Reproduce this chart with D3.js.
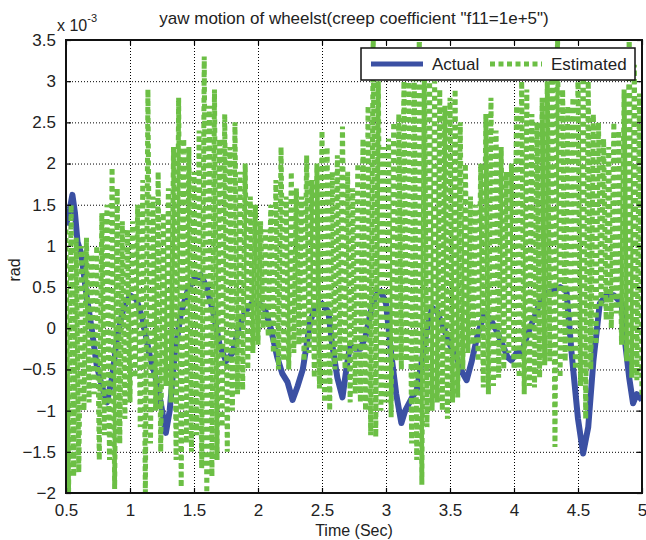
<!DOCTYPE html>
<html>
<head>
<meta charset="utf-8">
<script src="https://cdn.jsdelivr.net/npm/d3@7"></script>
<style>
  body { margin: 0; background: #fff; }
  svg { display: block; font-family: "Liberation Sans", Arial, Helvetica, sans-serif; }
</style>
</head>
<body>
<div id="chart"></div>
<script>
// yaw motion of wheelset: actual vs estimated (values in units of 1e-3 rad)

// tick values
const xTicks = [0.5, 1, 1.5, 2, 2.5, 3, 3.5, 4, 4.5, 5];
const yTicks = [-2, -1.5, -1, -0.5, 0, 0.5, 1, 1.5, 2, 2.5, 3, 3.5];

// actual series
const actualTime = [0.50, 0.53, 0.55, 0.57, 0.59, 0.62, 0.66, 0.70, 0.74, 0.78, 0.82, 0.86, 0.90, 0.95,
  1.00, 1.05, 1.10, 1.15, 1.20, 1.24, 1.28, 1.31, 1.35, 1.40, 1.45, 1.50, 1.55, 1.60, 1.65, 1.70, 1.75,
  1.80, 1.85, 1.90, 1.95, 2.00, 2.05, 2.10, 2.15, 2.19, 2.23, 2.27, 2.31, 2.35, 2.38, 2.41, 2.45, 2.50,
  2.55, 2.58, 2.62, 2.66, 2.69, 2.72, 2.76, 2.80, 2.84, 2.88, 2.92, 2.96, 3.00, 3.04, 3.08, 3.12, 3.15,
  3.20, 3.24, 3.28, 3.32, 3.36, 3.40, 3.45, 3.50, 3.55, 3.60, 3.63, 3.67, 3.72, 3.77, 3.82, 3.87, 3.91,
  3.95, 3.98, 4.02, 4.06, 4.10, 4.15, 4.20, 4.24, 4.30, 4.36, 4.41, 4.45, 4.50, 4.54, 4.58, 4.62, 4.67,
  4.72, 4.78, 4.84, 4.87, 4.90, 4.93, 4.96, 5.00];
const actualValue = [1.25, 1.45, 1.62, 1.40, 1.05, 0.90, 0.40, 0.00, -0.45, -0.70, -0.90, -0.60, -0.10, 0.25,
  0.40, 0.35, 0.10, -0.30, -0.60, -0.90, -1.27, -1.00, -0.30, 0.20, 0.45, 0.60, 0.65, 0.50, 0.20, -0.20, -0.40,
  -0.30, 0.00, 0.20, 0.30, 0.30, 0.25, 0.00, -0.35, -0.55, -0.65, -0.87, -0.70, -0.50, -0.20, 0.10, 0.25, 0.30,
  0.20, -0.20, -0.60, -0.84, -0.50, -0.20, -0.25, -0.25, -0.10, 0.20, 0.40, 0.45, 0.30, -0.30, -0.80, -1.15, -1.00,
  -0.85, -0.75, -0.40, 0.00, 0.25, 0.20, 0.00, -0.20, -0.35, -0.55, -0.63, -0.40, -0.05, 0.18, 0.10, -0.05, -0.20,
  -0.35, -0.39, -0.30, -0.30, -0.10, 0.10, 0.30, 0.42, 0.45, 0.50, 0.45, -0.30, -1.10, -1.52, -1.20, -0.40, 0.30,
  0.40, 0.40, 0.30, -0.20, -0.60, -0.91, -0.80, -0.87];

// estimated series: turning points of the fast oscillation
const estTime = [
  0.50, 0.52, 0.54, 0.56, 0.58, 0.60, 0.62, 0.64, 0.66, 0.68, 0.70, 0.72, 0.74, 0.76, 0.78, 0.80, 0.82, 0.84, 0.86, 0.88, 0.90, 0.92, 0.94, 0.96, 0.98,
  1.00, 1.02, 1.04, 1.06, 1.08, 1.10, 1.12, 1.14, 1.16, 1.18, 1.20, 1.22, 1.24, 1.26, 1.28, 1.30, 1.32, 1.34, 1.36, 1.38, 1.40, 1.42, 1.44, 1.46, 1.48,
  1.50, 1.52, 1.54, 1.56, 1.58, 1.60, 1.62, 1.64, 1.66, 1.68, 1.70, 1.72, 1.74, 1.76, 1.78, 1.80, 1.82, 1.84, 1.86, 1.88, 1.90, 1.92, 1.94, 1.96, 1.98,
  2.00, 2.02, 2.04, 2.06, 2.08, 2.10, 2.12, 2.14, 2.16, 2.18, 2.20, 2.22, 2.24, 2.26, 2.28, 2.30, 2.32, 2.34, 2.36, 2.38, 2.40, 2.42, 2.44, 2.46, 2.48,
  2.50, 2.52, 2.54, 2.56, 2.58, 2.60, 2.62, 2.64, 2.66, 2.68, 2.70, 2.72, 2.74, 2.76, 2.78, 2.80, 2.82, 2.84, 2.86, 2.88, 2.90, 2.92, 2.94, 2.96, 2.98,
  3.00, 3.02, 3.04, 3.06, 3.08, 3.10, 3.12, 3.14, 3.16, 3.18, 3.20, 3.22, 3.24, 3.26, 3.28, 3.30, 3.32, 3.34, 3.36, 3.38, 3.40, 3.42, 3.44, 3.46, 3.48,
  3.50, 3.52, 3.54, 3.56, 3.58, 3.60, 3.62, 3.64, 3.66, 3.68, 3.70, 3.72, 3.74, 3.76, 3.78, 3.80, 3.82, 3.84, 3.86, 3.88, 3.90, 3.92, 3.94, 3.96, 3.98,
  4.00, 4.02, 4.04, 4.06, 4.08, 4.10, 4.12, 4.14, 4.16, 4.18, 4.20, 4.22, 4.24, 4.26, 4.28, 4.30, 4.32, 4.34, 4.36, 4.38, 4.40, 4.42, 4.44, 4.46, 4.48,
  4.50, 4.52, 4.54, 4.56, 4.58, 4.60, 4.62, 4.64, 4.66, 4.68, 4.70, 4.72, 4.74, 4.76, 4.78, 4.80, 4.82, 4.84, 4.86, 4.88, 4.90, 4.92, 4.94, 4.96, 4.98,
  5.00];
const estValue = [
  1.2, -2.0, 1.5, -1.8, 1.1, -1.75, 1.0, -1.0, 1.1, -0.9, 0.9, -0.8, 1.0, -1.6, 1.4, -1.3, 1.5, -1.6, 1.95, -1.95, 1.7, -1.4, 1.3, -1.1, 1.2,
  -0.9, 1.3, -0.6, 1.5, -1.2, 1.8, -2.0, 2.9, -1.4, 1.6, -1.0, 1.9, -1.5, 1.4, -0.7, 1.7, -0.9, 2.2, -1.6, 2.8, -1.93, 2.3, -1.4, 2.2, -1.5,
  1.9, -1.3, 2.4, -1.7, 3.3, -2.0, 2.7, -1.8, 2.9, -1.6, 2.3, -1.2, 2.6, -1.5, 2.2, -1.0, 2.5, -0.8, 1.9, -0.75, 2.0, -0.5, 1.6, -0.3, 1.5,
  -0.2, 1.3, 0.0, 1.2, -0.1, 1.5, -0.3, 1.8, -0.5, 2.2, -0.4, 1.6, -0.5, 1.9, -0.3, 1.7, -0.2, 1.6, -0.4, 2.1, -0.3, 1.8, -0.6, 2.0, -0.73,
  2.4, -0.9, 2.2, -1.0, 1.9, -0.5, 2.1, -0.4, 2.45, -0.5, 1.9, -0.9, 1.7, -0.8, 2.0, -0.9, 2.3, -1.0, 2.7, -1.3, 3.6, -1.32, 3.0, -1.0, 2.2,
  -0.9, 2.3, -1.08, 2.5, -0.4, 2.6, -0.5, 3.0, -0.4, 3.1, -1.4, 3.3, -1.6, 3.6, -1.9, 3.2, -1.2, 3.1, -1.0, 3.0, -0.9, 2.9, -1.0, 2.7, -1.1,
  2.8, -0.9, 2.9, -0.84, 2.5, -0.5, 2.0, -0.3, 1.6, -0.2, 1.5, -0.4, 2.0, -0.72, 2.6, -0.8, 2.8, -0.7, 2.4, -0.6, 2.2, -0.5, 1.9, -0.3, 2.0,
  -0.5, 2.7, -0.6, 3.0, -0.8, 2.9, -0.7, 2.6, -0.72, 2.5, -0.6, 2.8, -0.45, 3.0, -0.4, 3.3, -1.44, 3.6, -0.6, 2.9, -0.4, 2.7, -0.3, 2.8, -0.5,
  3.1, -0.7, 3.2, -1.1, 3.0, -0.5, 2.6, -0.2, 2.5, 0.25, 2.3, 0.1, 2.2, 0.0, 2.5, 0.18, 2.4, -0.2, 2.9, -0.4, 3.6, -0.6, 3.2, -0.63, 2.85,
  -0.84];

const actual = actualTime.map((t, i) => ({ t, v: actualValue[i] }));
const estimated = estTime.map((t, i) => ({ t, v: estValue[i] }));

// layout
const W = 646, H = 540;
const margin = { top: 40, right: 4, bottom: 47, left: 66 };
const width = W - margin.left - margin.right,
      height = H - margin.top - margin.bottom;

const blue = "#3b50a3", green = "#6cbf45";

const svg = d3.select("#chart")
  .append("svg")
    .attr("width", W)
    .attr("height", H);

const g = svg.append("g")
  .attr("transform", `translate(${margin.left},${margin.top})`);

const x = d3.scaleLinear().domain([0.5, 5]).range([0, width]);
const y = d3.scaleLinear().domain([-2, 3.5]).range([height, 0]);

// clip the lines to the axes box
svg.append("defs").append("clipPath")
    .attr("id", "plotclip")
  .append("rect")
    .attr("width", width)
    .attr("height", height);

// dotted grid
g.append("g")
  .attr("transform", `translate(0,${height})`)
  .call(d3.axisBottom(x).tickValues(xTicks).tickSize(-height).tickFormat(""))
  .call(a => a.select(".domain").remove())
  .selectAll("line")
    .attr("stroke", "#000")
    .attr("stroke-width", 1)
    .attr("stroke-dasharray", "1,2");

g.append("g")
  .call(d3.axisLeft(y).tickValues(yTicks).tickSize(-width).tickFormat(""))
  .call(a => a.select(".domain").remove())
  .selectAll("line")
    .attr("stroke", "#000")
    .attr("stroke-width", 1)
    .attr("stroke-dasharray", "1,2");

// lines
const line = d3.line()
  .x(d => x(d.t))
  .y(d => y(d.v));

const plot = g.append("g").attr("clip-path", "url(#plotclip)");

plot.append("path")
  .datum(actual)
  .attr("fill", "none")
  .attr("stroke", blue)
  .attr("stroke-width", 6)
  .attr("stroke-linejoin", "round")
  .attr("d", line);

plot.append("path")
  .datum(estimated)
  .attr("fill", "none")
  .attr("stroke", green)
  .attr("stroke-width", 5)
  .attr("stroke-dasharray", "5,3.5")
  .attr("d", line);

// axes with inward ticks on all four sides
const fontSize = "17px";

const xAxis = g.append("g")
  .attr("transform", `translate(0,${height})`)
  .call(d3.axisBottom(x).tickValues(xTicks).tickSizeInner(-5).tickSizeOuter(0).tickPadding(11)
    .tickFormat(d3.format("")));
const yAxis = g.append("g")
  .call(d3.axisLeft(y).tickValues(yTicks).tickSizeInner(-5).tickSizeOuter(0).tickPadding(10)
    .tickFormat(d3.format("")));
g.append("g")
  .call(d3.axisTop(x).tickValues(xTicks).tickSizeInner(-5).tickSizeOuter(0).tickFormat(""));
g.append("g")
  .attr("transform", `translate(${width},0)`)
  .call(d3.axisRight(y).tickValues(yTicks).tickSizeInner(-5).tickSizeOuter(0).tickFormat(""));

g.selectAll(".domain").attr("stroke", "none");
g.selectAll(".tick line").filter(function () { return this.getAttribute("stroke-dasharray") == null; })
  .attr("stroke", "#000")
  .attr("stroke-width", 1.2);

[xAxis, yAxis].forEach(a => a.selectAll("text")
  .attr("fill", "#222")
  .style("font-size", fontSize));

// box
g.append("rect")
  .attr("width", width)
  .attr("height", height)
  .attr("fill", "none")
  .attr("stroke", "#111")
  .attr("stroke-width", 2);

// exponent label
const expo = svg.append("text")
  .attr("x", 57)
  .attr("y", 31)
  .attr("fill", "#222")
  .style("font-size", "16px");
expo.append("tspan").text("x 10");
expo.append("tspan")
  .attr("dy", -9)
  .style("font-size", "11px")
  .text("-3");

// title and axis labels
svg.append("text")
  .attr("x", margin.left + width / 2)
  .attr("y", 24)
  .attr("text-anchor", "middle")
  .attr("fill", "#222")
  .style("font-size", "17px")
  .text("yaw motion of wheelst(creep coefficient \"f11=1e+5\")");

svg.append("text")
  .attr("x", margin.left + width / 2)
  .attr("y", 536)
  .attr("text-anchor", "middle")
  .attr("fill", "#222")
  .style("font-size", "16px")
  .text("Time (Sec)");

svg.append("text")
  .attr("transform", "rotate(-90)")
  .attr("x", -270)
  .attr("y", 20)
  .attr("text-anchor", "middle")
  .attr("fill", "#222")
  .style("font-size", "16px")
  .text("rad");

// legend
const legend = svg.append("g").attr("transform", "translate(361,48)");
legend.append("rect")
  .attr("width", 274)
  .attr("height", 32)
  .attr("fill", "#fff")
  .attr("stroke", "#111")
  .attr("stroke-width", 1.5);

const legendItems = [
  { name: "Actual", color: blue, dash: null, x: 10 },
  { name: "Estimated", color: green, dash: "5,3.5", x: 129 }
];
legendItems.forEach(d => {
  legend.append("line")
    .attr("x1", d.x).attr("x2", d.x + 52)
    .attr("y1", 16).attr("y2", 16)
    .attr("stroke", d.color)
    .attr("stroke-width", 5)
    .attr("stroke-dasharray", d.dash);
  legend.append("text")
    .attr("x", d.x + 61)
    .attr("y", 22)
    .attr("fill", "#222")
    .style("font-size", fontSize)
    .text(d.name);
});
</script>
</body>
</html>
